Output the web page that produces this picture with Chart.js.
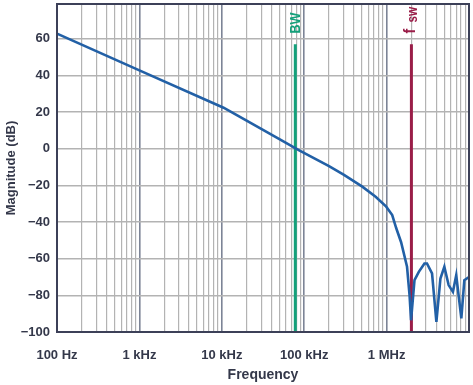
<!DOCTYPE html>
<html><head><meta charset="utf-8">
<script src="https://cdn.jsdelivr.net/npm/chart.js@4/dist/chart.umd.min.js"></script>
<style>html,body{margin:0;padding:0;background:#fff;}#wrap{width:473px;height:385px;}</style>
</head><body><div id="wrap"><canvas id="c" width="473" height="385"></canvas></div>
<script>
const frequencyHz = [100, 1000, 10500, 20000, 50000, 87000, 200000, 304000, 507000, 736000, 989000, 1170000, 1310000, 1500000, 1770000, 1900000, 1980000, 2180000, 2460000, 2880000, 3090000, 3560000, 4020000, 4500000, 5020000, 5660000, 6380000, 7000000, 8070000, 8780000, 10000000];
const magnitudeDb = [62.8, 42.8, 22.4, 15.3, 5.2, -0.9, -9.5, -14.3, -20.7, -26.2, -31.6, -36.2, -43.4, -51, -64.4, -80, -93.6, -71.7, -67.2, -62.6, -62.6, -68, -94.5, -70.8, -64.4, -74.4, -78.1, -69, -92.6, -71.7, -70];
const bwFrequencyHz = 78000;
const fswFrequencyHz = 2000000;
const markerRangeDb = [-100, 57];
const xTickValues = [100, 1000, 10000, 100000, 1000000];
const xTickLabels = ['100 Hz', '1 kHz', '10 kHz', '100 kHz', '1 MHz'];
const yTickValues = [-100, -80, -60, -40, -20, 0, 20, 40, 60];
const yTickLabels = ['\u2212100', '\u221280', '\u221260', '\u221240', '\u221220', '0', '20', '40', '60'];

const xGridValues = [];
for (let d = 100; d <= 1000000; d *= 10) { for (let m = 1; m <= 9; m++) xGridValues.push(m * d); }
xGridValues.push(10000000);
const isDecade = v => Math.abs(Math.log10(v) - Math.round(Math.log10(v))) < 1e-9;

const FONT = "'Liberation Sans', Arial, Helvetica, sans-serif";
const TXT = '#34384a';

const markerLabels = {
  id: 'markerLabels',
  afterDatasetsDraw(chart) {
    const ctx = chart.ctx, xs = chart.scales.x;
    ctx.save();
    let x = xs.getPixelForValue(bwFrequencyHz);
    ctx.save();
    ctx.translate(x, 33.5);
    ctx.rotate(-Math.PI / 2);
    ctx.scale(0.84, 1);
    ctx.fillStyle = '#14a07a';
    ctx.font = 'bold 15px ' + FONT;
    ctx.textAlign = 'left'; ctx.textBaseline = 'middle';
    ctx.fillText('BW', 0, 0.5);
    ctx.restore();
    x = xs.getPixelForValue(fswFrequencyHz);
    ctx.save();
    ctx.translate(x, 33.5);
    ctx.rotate(-Math.PI / 2);
    ctx.fillStyle = '#9a1d48';
    ctx.textAlign = 'left'; ctx.textBaseline = 'alphabetic';
    ctx.save(); ctx.scale(0.84, 1);
    ctx.font = 'bold 17px ' + FONT;
    ctx.fillText('f', 0, 3.5);
    ctx.restore();
    ctx.save(); ctx.translate(11, 0); ctx.scale(0.84, 1);
    ctx.font = 'bold 14px ' + FONT;
    ctx.fillText('sw', 0, 5.5);
    ctx.restore();
    ctx.restore();
    ctx.restore();
  },
  afterDraw(chart) {
    const {ctx, chartArea: a} = chart;
    ctx.save();
    ctx.strokeStyle = '#3c4058';
    ctx.lineWidth = 2;
    ctx.strokeRect(a.left, a.top, a.right - a.left, a.bottom - a.top);
    ctx.restore();
  }
};

const zeroPad = s => { s.paddingLeft = 0; s.paddingRight = 0; s.paddingTop = 0; s.paddingBottom = 0; };

new Chart(document.getElementById('c'), {
  type: 'line',
  data: {
    datasets: [
      { data: frequencyHz.map((f, i) => ({x: f, y: magnitudeDb[i]})), borderColor: '#2260a6', borderWidth: 2.6, pointRadius: 0, tension: 0, fill: false },
      { data: markerRangeDb.map(v => ({x: bwFrequencyHz, y: v})), borderColor: '#14a07a', borderWidth: 3, pointRadius: 0, fill: false },
      { data: markerRangeDb.map(v => ({x: fswFrequencyHz, y: v})), borderColor: '#9a1d48', borderWidth: 3, pointRadius: 0, fill: false }
    ]
  },
  options: {
    responsive: false, animation: false, devicePixelRatio: 1,
    layout: { padding: { top: 4, right: 4, left: 0, bottom: 0 } },
    plugins: { legend: { display: false }, tooltip: { enabled: false } },
    scales: {
      x: {
        type: 'logarithmic', min: 100, max: 10000000,
        afterBuildTicks: s => { s.ticks = xGridValues.map(v => ({value: v})); },
        afterFit: s => { s.height = 53; zeroPad(s); },
        ticks: { autoSkip: false, maxRotation: 0, padding: 16, color: TXT, font: { family: FONT, size: 13, weight: 'bold' },
          callback: v => { const i = xTickValues.indexOf(v); return i >= 0 ? xTickLabels[i] : ''; } },
        grid: { drawTicks: false, color: c => isDecade(c.tick.value) ? '#7c8496' : '#b3b3b3', lineWidth: c => isDecade(c.tick.value) ? 1.6 : 1.2 },
        border: { display: false },
        title: { display: true, text: 'Frequency', color: TXT, font: { family: FONT, size: 14, weight: 'bold' }, padding: { top: 0, bottom: 1.6 } }
      },
      y: {
        min: -100, max: 79,
        afterBuildTicks: s => { s.ticks = yTickValues.map(v => ({value: v})); },
        afterFit: s => { s.width = 57; zeroPad(s); },
        ticks: { padding: 7, color: TXT, font: { family: FONT, size: 13, weight: 'bold' },
          callback: v => { const i = yTickValues.indexOf(v); return i >= 0 ? yTickLabels[i] : ''; } },
        grid: { drawTicks: false, color: '#b3b3b3', lineWidth: 1.5 },
        border: { display: false },
        title: { display: true, text: 'Magnitude (dB)', color: TXT, font: { family: FONT, size: 13, weight: 'bold' }, padding: { top: 4, bottom: 0 } }
      }
    }
  },
  plugins: [markerLabels]
});
</script></body></html>
